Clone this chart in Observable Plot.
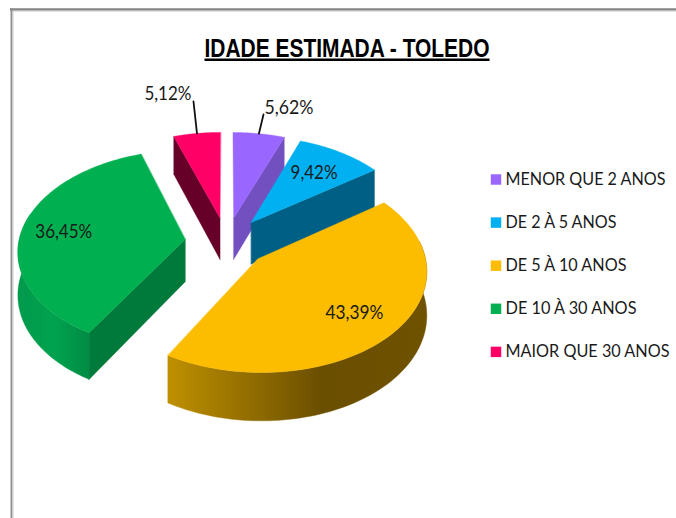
<!DOCTYPE html>
<html><head><meta charset="utf-8">
<script src="https://cdn.jsdelivr.net/npm/d3@7"></script>
<script src="https://cdn.jsdelivr.net/npm/@observablehq/plot@0.6"></script>
<style>
html,body{margin:0;padding:0;background:#fff;overflow:hidden}
</style></head><body><div id="c"></div>
<script>
const categories = ["MENOR QUE 2 ANOS","DE 2 À 5 ANOS","DE 5 À 10 ANOS","DE 10 À 30 ANOS","MAIOR QUE 30 ANOS"];
const shares = [5.62,9.42,43.39,36.45,5.12];
const shareLabels = ["5,62%","9,42%","43,39%","36,45%","5,12%"];
const topColors = ["#9966FF","#00B0F0","#FCBD00","#00AF50","#FF0066"];
const wallColors = ["#7350BF","#005F85",null,"#007A3A","#660029"];
const titleText = "IDADE ESTIMADA - TOLEDO";

// projection of the tilted pie: pixels per unit, perspective strength, slice radii, thickness
const W=676,H=518,cx=226,cy=241.4,A=41.6,B=24.8,k=0.026,D=42.5/B;
const radii=[4,4,3.96,4,4];
const TAU=Math.PI*2;
const total=d3.sum(shares);
let acc=0;
const slices=shares.map((s,i)=>{const a0=acc/total*TAU;acc+=s;const a1=acc/total*TAU;const m=(a0+a1)/2;
  return {i,a0,a1,m,R:radii[i],ex:Math.sin(m),ev:-Math.cos(m)};});
const proj=(u,v)=>{const w=1-k*v;return {x:u/w,y:v/w,w};};
const point=(s,r,a)=>proj(s.ex+r*Math.sin(a),s.ev-r*Math.cos(a));
const drop=p=>({x:p.x,y:p.y+D/p.w,w:p.w});
const arc=(s,a0,a1)=>d3.range(0,81).map(j=>point(s,s.R,a0+(a1-a0)*j/80));
const apex=s=>proj(s.ex,s.ev);
const shape=(pts,fill)=>Plot.line(pts,{x:"x",y:"y",fill,stroke:fill,strokeWidth:0.4,curve:"linear-closed"});
const topFace=s=>shape([apex(s),...arc(s,s.a0,s.a1)],topColors[s.i]);
const sideWall=(s,a,fill)=>{const p=apex(s),q=point(s,s.R,a);return shape([p,q,drop(q),drop(p)],fill);};
const rimWall=(s,a0,a1,fill)=>{const c=arc(s,a0,a1);return shape([...c,...c.map(drop).reverse()],fill);};
const deg=d=>d*Math.PI/180;
const [sPurple,sBlue,sOrange,sGreen,sPink]=slices;

// pixel helpers for annotations
const xu=p=>(p-cx)/A, yu=p=>(p-cy)/B;

const gradientDefs=()=>{
  const d=d3.create("svg:defs");
  const g=(id,x1,x2,stops)=>{const l=d.append("linearGradient").attr("id",id).attr("gradientUnits","userSpaceOnUse")
    .attr("x1",x1).attr("x2",x2).attr("y1",0).attr("y2",0);
    stops.forEach(([o,c])=>l.append("stop").attr("offset",o).attr("stop-color",c));};
  g("gOrange",167,427,[[0,"#BF9000"],[0.59,"#6B4F00"],[1,"#6E5200"]]);
  g("gGreen",18,91,[[0,"#009A4C"],[0.5,"#00A24F"],[1,"#008A42"]]);
  return d.node();
};

// label position: fraction along slice mid-angle, then a fine pixel nudge
const labelR=[4.9,2.8,2.9,3,5.4];
const labelNudge=[[25,-9],[-1,0],[-1,1],[1,0],[-22,-14]];
const labelWidths=[49,47,58,57,47];
const labelData=slices.map(s=>{const p=point(s,labelR[s.i],s.m);return {x:p.x,y:p.y,t:shareLabels[s.i],dx:labelNudge[s.i][0],dy:labelNudge[s.i][1],i:s.i};});
const leaders=[[point(sPurple,sPurple.R,sPurple.m),{x:xu(263),y:yu(114)}],[point(sPink,sPink.R,sPink.m),{x:xu(193),y:yu(101)}]];

const legendRows=categories.map((c,i)=>({c,i,x:xu(495.5),tx:xu(505),y:yu(179+43.1*i)}));
const legendWidths=[160,111,121,131,164];

const chart=Plot.plot({
  width:W,height:H,margin:0,
  x:{domain:[xu(0),xu(W)],range:[0,W],axis:null},
  y:{domain:[yu(0),yu(H)],range:[0,H],axis:null},
  color:{domain:categories,range:topColors},
  style:{background:"#fff",fontFamily:"Lato"},
  marks:[
    gradientDefs,
    Plot.ruleY([yu(9)],{x1:xu(10),x2:xu(W),stroke:"#858585",strokeWidth:2.4}),
    Plot.ruleY([yu(10.5)],{x1:xu(12),x2:xu(W),stroke:"#c8c8c8",strokeWidth:1}),
    Plot.ruleX([xu(11)],{y1:yu(8),y2:yu(H),stroke:"#909090",strokeWidth:2}),
    Plot.ruleX([xu(12.5)],{y1:yu(11),y2:yu(H),stroke:"#d0d0d0",strokeWidth:1}),
    Plot.text([titleText],{x:()=>xu(346.5),y:()=>yu(48),text:d=>d,fontFamily:"Liberation Sans",fontWeight:"bold",fontSize:25,fill:"#000"}),
    // back to front
    sideWall(sPink,sPink.a0,wallColors[4]), topFace(sPink),
    sideWall(sPurple,sPurple.a1,wallColors[0]), topFace(sPurple),
    sideWall(sBlue,sBlue.a1,wallColors[1]), topFace(sBlue),
    sideWall(sGreen,sGreen.a0,wallColors[3]), rimWall(sGreen,sGreen.a0,deg(285),"url(#gGreen)"), topFace(sGreen),
    rimWall(sOrange,deg(80),sOrange.a1,"url(#gOrange)"), topFace(sOrange),
    ...leaders.map(l=>Plot.line(l,{x:"x",y:"y",stroke:"#111",strokeWidth:1.8})),
    ...labelData.map(d=>Plot.text([d],{x:"x",y:"y",text:"t",dx:d.dx,dy:d.dy,fontSize:20,fill:"#1a1a1a"})),
    Plot.dot(legendRows,{x:"x",y:"y",fill:"c",symbol:"square",r:5.9}),
    Plot.text(legendRows,{x:"tx",y:"y",text:"c",textAnchor:"start",fontSize:16.8,fill:"#1a1a1a"})
  ]
});
document.getElementById("c").appendChild(chart);
// fit the text to the narrow widths of the original face
const widths=new Map([[titleText,285],...categories.map((c,i)=>[c,legendWidths[i]]),...shareLabels.map((c,i)=>[c,labelWidths[i]])]);
d3.select(chart).selectAll("text").each(function(){
  const t=this.textContent;
  if(widths.has(t)) d3.select(this).attr("textLength",widths.get(t)).attr("lengthAdjust","spacingAndGlyphs");
  if(t===titleText) d3.select(this).style("text-decoration","underline");
});
</script></body></html>
